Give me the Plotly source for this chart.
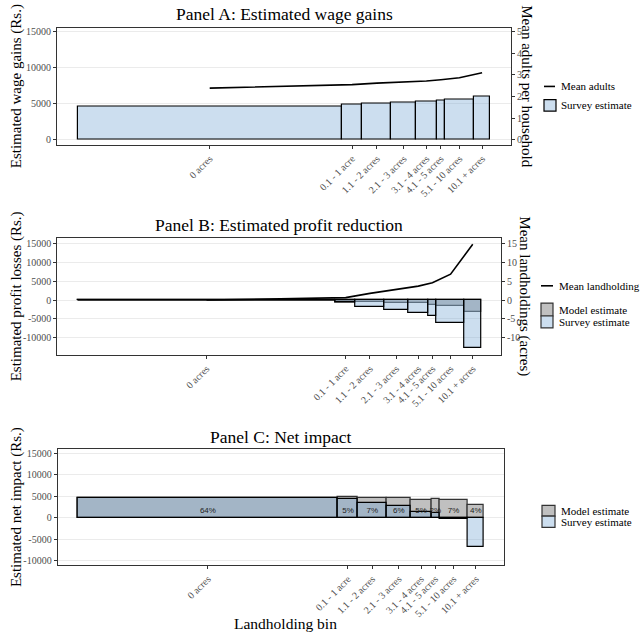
import plotly.graph_objects as go

# ---------------- data ----------------
bins = ["0 acres", "0.1 - 1 acre", "1.1 - 2 acres", "2.1 - 3 acres",
        "3.1 - 4 acres", "4.1 - 5 acres", "5.1 - 10 acres", "10.1 + acres"]
share_pct = [64, 5, 7, 6, 5, 2, 7, 4]

wage_gain_survey = [4625, 4900, 5040, 5180, 5320, 5460, 5555, 6015]
mean_adults = [2.39, 2.55, 2.62, 2.67, 2.72, 2.78, 2.87, 3.10]

profit_loss_survey = [0, -600, -1760, -2650, -3530, -4230, -6170, -12780]
profit_loss_model = [0, -700, -440, -700, -880, -1320, -1500, -3260]
mean_landholding = [0.0, 0.65, 1.77, 2.82, 3.70, 4.58, 6.88, 14.8]

net_survey = [4600, 4430, 3500, 2720, 1320, 1170, -300, -6700]
net_model = [4600, 4820, 4670, 4670, 4280, 4430, 4120, 2960]

ticks_A = [0, 5000, 10000, 15000]
ticks_BC = [-10000, -5000, 0, 5000, 10000, 15000]
ticks_A_right = [0, 1, 2, 3, 4, 5]
ticks_B_right = [-10, -5, 0, 5, 10, 15]
scale_A = 3000   # secondary axis: Rs per adult
scale_B = 1000   # secondary axis: Rs per acre

# ---------------- derived positions ----------------
edges = [0]
for s in share_pct:
    edges.append(edges[-1] + s)
centers = [edges[i] + share_pct[i] / 2 for i in range(len(share_pct))]
pct_text = [f"{s}%" for s in share_pct]

W, H = 642, 633
def px(x):
    return x / W
def py(y):
    return 1 - y / H

SERIF = "Liberation Serif, Times New Roman, serif"
SANS = "Liberation Sans, Arial, sans-serif"
TICK_COL = "#4d4d4d"
FRAME = "#333333"

SURVEY_FILL = "rgba(109,161,209,0.35)"
MODEL_FILL = "rgb(192,192,192)"
SURVEY_LEGEND = "rgb(204,222,239)"

fig = go.Figure()

# Panel A
fig.add_trace(go.Bar(x=centers, y=wage_gain_survey, width=share_pct,
                     marker=dict(color=SURVEY_FILL, line=dict(color="black", width=1.2)),
                     xaxis="x", yaxis="y", showlegend=False, hoverinfo="skip"))
fig.add_trace(go.Scatter(x=centers, y=mean_adults, mode="lines",
                         line=dict(color="black", width=1.6),
                         xaxis="x", yaxis="y4", showlegend=False))

# Panel B
fig.add_trace(go.Bar(x=centers, y=profit_loss_model, width=share_pct,
                     marker=dict(color=MODEL_FILL, line=dict(color="#555555", width=1.2)),
                     xaxis="x2", yaxis="y2", showlegend=False))
fig.add_trace(go.Bar(x=centers, y=profit_loss_survey, width=share_pct,
                     marker=dict(color=SURVEY_FILL, line=dict(color="black", width=1.2)),
                     xaxis="x2", yaxis="y2", showlegend=False))
# outline of zero-height bars
zx, zy = [], []
for i, v in enumerate(profit_loss_survey):
    if v == 0:
        zx += [edges[i], edges[i + 1], None]
        zy += [0, 0, None]
fig.add_trace(go.Scatter(x=zx, y=zy, mode="lines", line=dict(color="black", width=1.2),
                         xaxis="x2", yaxis="y2", showlegend=False))
fig.add_trace(go.Scatter(x=centers, y=mean_landholding, mode="lines",
                         line=dict(color="black", width=1.6),
                         xaxis="x2", yaxis="y5", showlegend=False))

# Panel C
fig.add_trace(go.Bar(x=centers, y=net_model, width=share_pct,
                     marker=dict(color=MODEL_FILL, line=dict(color="#333333", width=1.2)),
                     xaxis="x3", yaxis="y3", showlegend=False))
fig.add_trace(go.Bar(x=centers, y=net_survey, width=share_pct,
                     marker=dict(color=SURVEY_FILL, line=dict(color="black", width=1.2)),
                     xaxis="x3", yaxis="y3", showlegend=False))
fig.add_trace(go.Scatter(x=centers, y=[1500] * len(centers), mode="text", text=pct_text,
                         textfont=dict(family=SANS, size=8, color="#222222"),
                         xaxis="x3", yaxis="y3", showlegend=False))

panels = {
    "A": dict(x0=57, x1=511, y0=26.7, y1=144.3, yr=[-740, 15600]),
    "B": dict(x0=57.3, x1=501, y0=237.7, y1=355, yr=[-14550, 16480]),
    "C": dict(x0=57.7, x1=504.3, y0=449.3, y1=566, yr=[-11070, 16090]),
}

def xax(p, anchor):
    return dict(domain=[px(p["x0"]), px(p["x1"])], anchor=anchor, range=[-5, 105],
                tickvals=centers, ticktext=bins, tickangle=-45, ticks="outside",
                ticklen=3, tickcolor=FRAME, showline=True, mirror=True, linecolor=FRAME,
                linewidth=1, showgrid=False, zeroline=False,
                tickfont=dict(family=SERIF, size=10, color=TICK_COL))

def yax(p, anchor, tv):
    return dict(domain=[py(p["y1"]), py(p["y0"])], anchor=anchor, range=p["yr"],
                tickvals=tv, ticktext=[str(v) for v in tv], ticks="outside", ticklen=3,
                tickcolor=FRAME, showline=True, mirror=True, linecolor=FRAME, linewidth=1,
                showgrid=True, gridcolor="#ebebeb", gridwidth=1, zeroline=False,
                tickfont=dict(family=SERIF, size=10, color=TICK_COL))

def yax2(p, over, anchor, scale, tv, labels=True):
    return dict(overlaying=over, side="right", anchor=anchor,
                range=[p["yr"][0] / scale, p["yr"][1] / scale], tickvals=tv,
                ticktext=[str(v) for v in tv],
                ticks="outside", ticklen=3, tickcolor=FRAME, showline=True,
                linecolor=FRAME, linewidth=1, showgrid=False, zeroline=False,
                showticklabels=labels,
                tickfont=dict(family=SERIF, size=10, color=TICK_COL))

pA, pB, pC = panels["A"], panels["B"], panels["C"]
fig.update_layout(
    width=W, height=H, margin=dict(l=0, r=0, t=0, b=0),
    paper_bgcolor="white", plot_bgcolor="white", barmode="overlay", bargap=0,
    showlegend=False,
    xaxis=xax(pA, "y"), yaxis=yax(pA, "x", ticks_A),
    xaxis2=xax(pB, "y2"), yaxis2=yax(pB, "x2", ticks_BC),
    xaxis3=xax(pC, "y3"), yaxis3=yax(pC, "x3", ticks_BC),
    yaxis4=yax2(pA, "y", "x", scale_A, ticks_A_right),
    yaxis5=yax2(pB, "y2", "x2", scale_B, ticks_B_right),
    yaxis6=yax2(pC, "y3", "x3", 1, ticks_BC, labels=False),
)

ann = []
shapes = []
def text(x, y, s, size, angle=0, xanchor="center", family=SERIF, color="black"):
    ann.append(dict(x=px(x), y=py(y), xref="paper", yref="paper", text=s,
                    showarrow=False, textangle=angle, xanchor=xanchor, yanchor="middle",
                    borderpad=0,
                    font=dict(family=family, size=size, color=color)))

# titles
text(284, 13, "Panel A: Estimated wage gains", 17.5)
text(279, 225, "Panel B: Estimated profit reduction", 17.5)
text(281, 437, "Panel C: Net impact", 17.5)
# left axis titles
text(16, 85.5, "Estimated wage gains (Rs.)", 15, angle=-90)
text(16, 296.3, "Estimated profit losses (Rs.)", 15, angle=-90)
text(16, 507.7, "Estimated net impact (Rs.)", 15, angle=-90)
# right axis titles
text(527, 85.5, "Mean adults per household", 15, angle=90)
text(525, 296.3, "Mean landholdings (acres)", 15, angle=90)
# x title
text(285, 624, "Landholding bin", 15.5)

# legends
LEG = 11
def leg_line(x0, x1, y, label, tx):
    shapes.append(dict(type="line", xref="paper", yref="paper", x0=px(x0), x1=px(x1),
                       y0=py(y), y1=py(y), line=dict(color="black", width=1.6)))
    text(tx, y, label, LEG, xanchor="left")

def leg_box(x0, x1, y0, y1, fill, label, tx, lc="#333333"):
    shapes.append(dict(type="rect", xref="paper", yref="paper", x0=px(x0), x1=px(x1),
                       y0=py(y1), y1=py(y0), fillcolor=fill, line=dict(color=lc, width=1.2)))
    text(tx, (y0 + y1) / 2, label, LEG, xanchor="left")

leg_line(544, 555, 85.7, "Mean adults", 560)
leg_box(544, 556, 99, 110.5, SURVEY_LEGEND, "Survey estimate", 560, lc="black")

leg_line(541, 553, 285.7, "Mean landholding", 558)
leg_box(541, 553, 303, 316, MODEL_FILL, "Model estimate", 558)
leg_box(541, 553, 316, 328, SURVEY_LEGEND, "Survey estimate", 558)

leg_box(542, 555, 506, 516.7, MODEL_FILL, "Model estimate", 560)
leg_box(542, 555, 516.7, 528, SURVEY_LEGEND, "Survey estimate", 560)

fig.update_layout(annotations=ann, shapes=shapes)
fig.write_html("out.html", config={"displayModeBar": False},
               post_script="document.body.style.margin='0';document.body.style.padding='0';")
